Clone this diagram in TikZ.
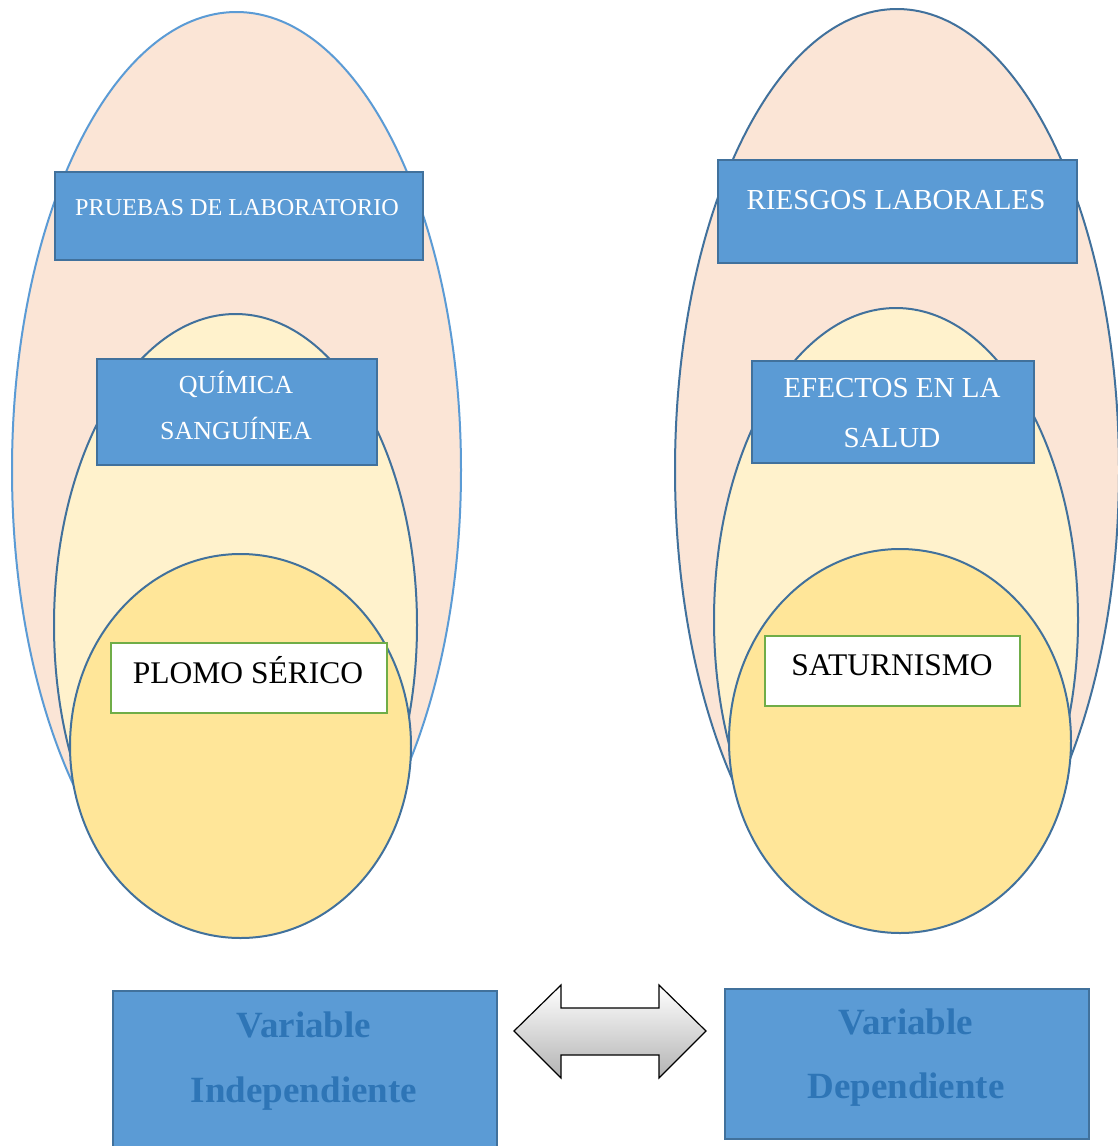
\documentclass[tikz,border=0pt]{standalone}
\usepackage{fontspec}
\setmainfont{Liberation Serif}
\definecolor{outerfill}{HTML}{FBE5D6}
\definecolor{midfill}{HTML}{FFF2CC}
\definecolor{innerfill}{HTML}{FFE699}
\definecolor{boxblue}{HTML}{5B9BD5}
\definecolor{boxedge}{HTML}{41719C}
\definecolor{lightedge}{HTML}{5B9BD5}
\definecolor{varblue}{HTML}{2E75B6}
\definecolor{greenedge}{HTML}{70AD47}
\tikzset{
  outerell/.style={fill=outerfill, draw=boxedge, line width=2pt},
  midell/.style={fill=midfill, draw=boxedge, line width=2pt},
  innerell/.style={fill=innerfill, draw=boxedge, line width=2pt},
  bluebox/.style={rectangle, fill=boxblue, draw=boxedge, line width=2pt, inner sep=0pt, anchor=north west},
  greenbox/.style={rectangle, fill=white, draw=greenedge, line width=2pt, inner sep=0pt, anchor=north west},
  whitetxt/.style={text=white, inner sep=0pt, align=center},
  blacktxt/.style={text=black, inner sep=0pt, align=center},
  vartxt/.style={text=varblue, inner sep=0pt, align=center},
}
\begin{document}
\begin{tikzpicture}[x=1pt,y=-1pt]
\useasboundingbox (0,0) rectangle (1118,1146);
% ---------- Left group ----------
\path[outerell, draw=lightedge] (236.5,470) ellipse [x radius=224.5, y radius=458];
\node[bluebox, minimum width=368pt, minimum height=88pt] (pb) at (54,171) {};
\node[whitetxt, font=\fontsize{24.2}{28}\selectfont] (pbt) at (237,208) {PRUEBAS DE LABORATORIO};
\path[midell] (235.5,625) ellipse [x radius=181.5, y radius=311];
\node[bluebox, minimum width=280pt, minimum height=106pt] (qs) at (96,358) {};
\node[whitetxt, font=\fontsize{26}{46}\selectfont] (qst) at (236,405) {QUÍMICA\\SANGUÍNEA};
\path[innerell] (240.5,746) ellipse [x radius=170.5, y radius=192];
\node[greenbox, minimum width=276pt, minimum height=70pt] (ps) at (110,642) {};
\node[blacktxt, font=\fontsize{31.5}{36}\selectfont] (pst) at (248,670.5) {PLOMO SÉRICO};
% ---------- Right group ----------
\path[outerell] (897,470) ellipse [x radius=222, y radius=461];
\node[bluebox, minimum width=359pt, minimum height=103pt] (rl) at (717,159) {};
\node[whitetxt, font=\fontsize{29}{34}\selectfont] (rlt) at (896,200.5) {RIESGOS LABORALES};
\path[midell] (896,620) ellipse [x radius=182, y radius=312];
\node[bluebox, minimum width=282pt, minimum height=102pt] (es) at (751,360) {};
\node[whitetxt, font=\fontsize{29}{50}\selectfont] (est) at (892,413) {EFECTOS EN LA\\SALUD};
\path[innerell] (900,741) ellipse [x radius=171, y radius=192];
\node[greenbox, minimum width=255pt, minimum height=70pt] (sa) at (764,635) {};
\node[blacktxt, font=\fontsize{31.5}{36}\selectfont] (sat) at (892,665.5) {SATURNISMO};
% ---------- Bottom ----------
\node[bluebox, minimum width=384pt, minimum height=162pt] (vi) at (112,990) {};
\node[vartxt, font=\fontsize{37}{65}\selectfont\bfseries] (vit) at (304,1061) {Variable\\Independiente};
\node[bluebox, minimum width=364pt, minimum height=150pt] (vd) at (724,988) {};
\node[vartxt, font=\fontsize{37}{64}\selectfont\bfseries] (vdt) at (906,1058) {Variable\\Dependiente};
% double arrow between the variables
\coordinate (al) at (514,1031);
\coordinate (ar) at (706,1031);
\shade[top color=white, bottom color=black!30, draw=black, line width=1.2pt, line join=miter]
  (al) -- (561,985) -- (561,1008) -- (659,1008) -- (659,985) -- (ar)
  -- (659,1078) -- (659,1055) -- (561,1055) -- (561,1078) -- cycle;
\end{tikzpicture}
\end{document}
